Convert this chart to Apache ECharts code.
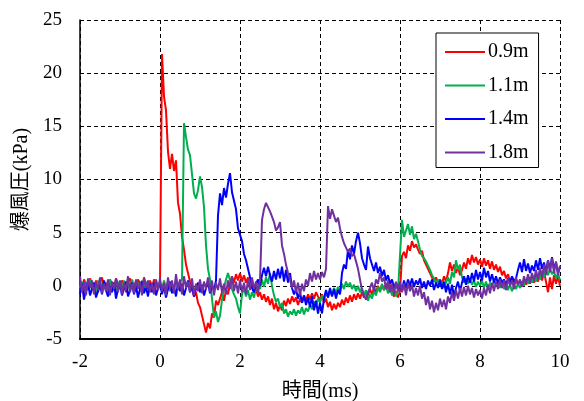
<!DOCTYPE html>
<html lang="ja">
<head>
<meta charset="UTF-8" />
<title>爆風圧</title>
<script src="https://cdn.jsdelivr.net/npm/echarts@6.0.0/dist/echarts.min.js"></script>
<style>
  html, body { margin: 0; padding: 0; background: #fff; }
  #chart { width: 584px; height: 401px; }
</style>
</head>
<body>
<div id="chart"></div>
<script>
// sampled signals, one value every 0.05 ms from -2 ms to 10 ms
var t0 = -2;
var dt = 0.05;

var names = ["0.9m", "1.1m", "1.4m", "1.8m"];
var colors = ["#ff0000", "#00b050", "#0000ff", "#7030a0"];

var red = [
  0.3,-0.5,0.6,0.1,-0.4, 0.7,0.2,-0.3,0.5,-0.6, 0.4,0.8,-0.2,0.3,-0.5, 0.6,0.1,-0.4,0.7,0.2,
  -0.3,0.5,0.2,-0.6,0.4, 0.7,-0.2,0.3,-0.5,0.6, 0.2,-0.4,0.8,0.1,-0.3, 0.5,-0.2,0.6,0.3,-0.4,
  0.3,21.8,17.8,16.5,12.6, 11.0,12.4,10.8,11.8,7.8, 6.8,4.6,3.4,2.0,1.2, 0.4,-0.3,-1.0,-0.6,-1.6,
  -2.0,-2.8,-3.6,-4.4,-3.5, -4.0,-2.6,-3.0,-1.4,-1.8, -1.2,-0.6,-1.4,-0.4,-0.8, 0.2,0.9,0.3,1.1,0.5,
  1.2,0.4,1.0,0.3,0.8, -0.2,0.2,-0.6,-0.3,-1.0, -0.6,-1.3,-0.8,-1.5,-1.0, -1.8,-1.2,-2.2,-1.6,-2.4,
  -1.8,-2.3,-1.4,-1.9,-1.2, -1.7,-1.0,-1.5,-1.1,-1.8, -1.2,-1.6,-0.9,-1.4,-0.8, -1.3,-0.7,-1.2,-0.6,-1.0,
  -1.3,-0.8,-1.6,-1.2,-2.0, -1.5,-2.3,-1.7,-2.2,-1.6, -2.0,-1.3,-1.8,-1.1,-1.6, -0.9,-1.5,-0.8,-1.3,-0.7,
  -1.2,-0.6,-1.1,-0.5,-0.9, -0.3,-0.8,-0.2,-0.6,0.0, -0.5,0.1,-0.4,0.2,-0.3, 0.1,-0.6,-1.0,-0.5,-1.1,
  -0.5,2.8,3.2,2.6,3.8, 3.3,4.2,3.6,3.9,3.4, 3.0,3.3,2.4,2.0,1.6, 1.2,0.8,0.4,0.8,0.3,
  0.6,0.2,0.9,0.4,1.2, 2.2,1.4,2.0,1.2,1.8, 1.0,1.5,2.2,1.6,2.6, 2.0,2.9,2.2,2.7,2.0,
  2.5,1.8,2.6,1.9,2.4, 1.6,2.3,1.5,2.0,1.3, 1.8,1.0,1.4,0.7,1.1, 0.4,0.8,0.2,0.6,0.1,
  0.5,0.0,0.6,0.1,0.8, 0.2,0.9,0.3,1.0,0.4, 1.2,0.5,1.3,0.4,-0.6, 0.8,-0.3,1.0,0.2,0.9, 0.0
];

var green = [
  -0.2,0.4,-0.5,0.3,-0.1, 0.6,-0.4,0.2,-0.6,0.5, 0.0,-0.3,0.4,-0.5,0.2, 0.6,-0.2,0.3,-0.6,0.1,
  0.4,-0.3,0.5,-0.1,0.2, -0.5,0.6,0.0,-0.4,0.3, -0.2,0.5,-0.6,0.2,0.4, -0.3,0.1,-0.5,0.5,-0.1,
  0.3,-0.4,0.5,-0.2,0.4, -0.5,0.2,-0.3,0.6,-0.1, 0.3,0.6,15.3,14.0,12.8, 12.3,10.5,8.7,8.2,9.0,
  10.3,9.3,7.4,3.8,1.6, 0.6,-1.2,-3.0,-2.4,-3.4, -2.8,-1.3,-0.2,0.6,1.2, 0.5,-0.3,-0.8,-1.2,-2.0,
  -2.6,-0.8,-0.2,-1.0,-0.4, -1.3,-0.6,-1.1,-0.2,0.5, -0.3,0.6,-0.1,0.8,0.2, 1.2,0.0,-0.9,-1.5,-1.2,
  -2.0,-1.6,-2.6,-2.2,-2.9, -2.4,-2.7,-2.2,-2.8,-2.3, -2.6,-2.0,-2.7,-2.1,-2.4, -1.8,-2.2,-1.5,-1.9,-1.2,
  -1.6,-0.9,-1.3,-0.6,-1.1, -0.4,-0.9,-0.2,-0.7,-0.1, -0.6,0.2,-0.3,0.4,-0.1, 0.3,-0.3,0.1,-0.5,0.0,
  -0.6,-0.2,-0.9,-0.4,-1.4, -0.8,-1.2,-0.5,-0.9,-0.1, -0.6,0.2,-0.4,0.0,-0.7, -0.2,-0.9,-0.4,-1.0,-0.5,
  -0.6,6.2,4.6,5.2,5.8, 4.8,5.6,4.4,4.9,4.2, 3.4,2.8,2.6,2.3,1.9, 1.5,1.0,0.7,0.2,0.6,
  0.0,0.4,-0.2,0.3,0.8, 0.2,1.3,0.8,2.4,1.5, 2.0,0.8,0.3,0.7,0.2, 0.6,0.1,0.5,-0.1,0.4,
  0.0,0.5,-0.2,0.4,-0.3, 0.3,-0.1,0.5,0.0,0.4, -0.2,0.3,-0.3,0.2,-0.4, 0.1,-0.5,0.0,-0.3,0.2,
  -0.2,0.4,0.0,0.6,0.2, 0.8,0.3,0.9,0.4,1.1, 0.6,1.3,0.8,1.5,1.0, 1.6,1.1,1.4,0.7,1.2, 0.5
];

var blue = [
  -0.8,0.2,-1.3,-0.2,0.4, -0.9,-0.3,0.3,-1.1,-0.5, 0.1,-0.8,0.5,-0.4,-1.0, 0.0,-0.6,0.3,-1.2,-0.3,
  0.2,-0.9,-0.2,0.4,-1.0, -0.4,0.3,-0.8,0.0,-1.1, -0.3,0.4,-0.7,-0.1,-1.0, 0.2,-0.6,0.3,-0.9,-0.2,
  0.3,-0.8,0.0,-1.1,-0.3, 0.4,-0.7,-0.1,-1.0,0.3, -0.5,0.2,-0.9,-0.2,0.5, -0.6,0.0,-1.0,-0.3,0.3,
  -0.6,0.1,-0.9,-0.2,0.4, -0.7,0.0,-0.4,0.5,6.6, 8.7,7.6,9.2,8.3,9.6, 10.6,8.8,8.0,7.2,5.4,
  4.8,4.2,3.0,2.4,1.6, 0.8,-0.2,-0.6,0.2,0.6, 0.0,1.0,1.7,0.9,1.8, 1.0,0.4,1.4,0.6,1.6,
  0.7,1.8,0.4,1.5,0.3, 1.2,-0.2,-0.8,-0.3,-1.2, -0.6,-1.6,-0.9,-1.8,-1.1, -2.0,-1.0,-2.3,-1.4,-2.6,
  -1.6,-2.6,-1.2,-0.4,-1.1, -0.2,-1.0,-0.3,-1.2,-0.4, -0.8,1.2,2.0,1.6,3.4, 2.5,3.8,3.0,4.2,5.0,
  4.0,2.6,2.0,1.5,3.7, 2.6,2.0,1.4,2.2,1.2, 1.8,0.9,1.5,0.5,1.0, 0.2,0.6,-0.2,0.3,-0.4,
  0.2,-0.5,0.5,-0.2,0.6, 0.0,0.7,-0.1,0.5,0.1, 0.7,-0.2,0.4,-0.3,0.5, 0.0,0.6,-0.4,0.3,-0.2,
  0.5,-0.3,0.4,-0.6,0.2, -0.8,0.1,-1.0,-0.2,0.4, -0.5,0.3,0.9,0.1,1.0, 0.3,1.2,0.4,1.5,0.6,
  1.3,0.5,1.7,0.8,1.4, 0.4,1.1,0.3,0.9,0.2, 0.8,0.3,0.6,0.1,0.7, 0.3,0.9,0.4,0.7,1.5,
  2.2,1.3,2.5,1.4,2.1, 1.2,1.9,1.4,2.4,1.5, 2.6,1.6,2.2,1.3,2.4, 1.5,2.7,1.6,2.2,1.2, 1.8
];

var purple = [
  0.9,-0.6,0.4,-0.9,0.7, -0.2,0.5,-0.8,0.3,-0.4, 0.8,-0.7,0.2,-0.5,0.6, -0.9,0.4,-0.3,0.7,-0.6,
  0.5,-0.8,0.3,-0.4,0.9, -0.6,0.2,-0.7,0.6,-0.3, 0.4,-0.9,0.7,-0.2,0.5, -0.6,0.3,-0.8,0.6,-0.4,
  0.7,-0.5,0.3,-0.9,0.8, -0.3,0.5,-0.7,1.1,-0.4, 0.6,-0.8,0.9,-0.2,0.4, -0.6,0.7,-0.9,0.2,-0.5,
  0.6,-0.7,0.4,-0.3,0.8, -0.6,0.5,-0.9,0.3,-0.4, 0.7,-0.6,0.2,-0.8,0.5, -0.3,0.9,-0.5,0.4,-0.7,
  0.5,-0.6,0.3,-0.8,0.6, -0.4,0.8,-0.3,0.4,-0.7, 0.5,6.2,7.2,7.8,7.4, 7.0,6.5,6.0,5.2,5.5,
  6.0,3.8,3.0,2.0,1.2, 0.6,-0.2,0.5,-0.6,0.3, -0.9,0.2,-0.5,0.6,0.0, 1.2,0.4,1.4,0.6,1.2,
  0.6,1.3,0.8,1.6,7.5, 6.3,7.2,6.6,6.0,6.4, 5.4,4.6,4.0,3.6,3.2, 3.5,2.8,3.0,2.3,1.6,
  0.6,-0.4,-0.9,-1.3,-0.6, -0.2,0.3,-0.5,0.6,0.2, 1.2,0.4,0.8,-0.3,0.5, -0.6,0.2,-0.8,0.4,-0.5,
  0.4,-0.6,0.2,-0.9,0.3, -0.5,0.1,-1.0,-0.2,-0.9, 0.0,-1.2,-0.6,-1.8,-1.0, -2.2,-1.4,-2.5,-1.6,-2.3,
  -1.2,-2.0,-1.3,-2.2,-1.0, -1.6,-0.6,-1.4,-0.4,-1.2, -0.2,-1.0,-0.1,-0.9,0.0, -0.8,-0.2,-1.1,-0.3,-0.9,
  -0.4,-1.2,-0.2,-0.9,0.1, -0.7,0.3,-0.5,0.4,-0.3, 0.6,-0.2,0.5,-0.4,0.7, 0.0,0.5,-0.3,0.8,0.1,
  0.6,-0.1,0.9,0.2,1.1, 0.3,1.2,0.5,1.5,0.6, 1.7,0.8,2.0,1.0,2.4, 1.3,2.6,1.2,2.3,1.0, 1.9
];

var serif = "'Liberation Serif', 'Noto Sans CJK JP', serif";

function toPairs(vals) {
  var out = [];
  for (var i = 0; i < vals.length; i++) {
    out.push([+(t0 + i * dt).toFixed(2), vals[i]]);
  }
  return out;
}

var chart = echarts.init(document.getElementById("chart"), null, { renderer: "canvas" });

var seriesList = [red, green, blue, purple].map(function (vals, k) {
  return {
    name: names[k],
    type: "line",
    data: toPairs(vals),
    symbol: "none",
    showSymbol: false,
    sampling: null,
    lineStyle: { color: colors[k], width: 2 },
    itemStyle: { color: colors[k] },
    emphasis: { disabled: true }
  };
});

var gridLine = { show: true, lineStyle: { color: "#000", width: 1, type: [4, 3] } };

chart.setOption({
  animation: false,
  backgroundColor: "#fff",
  grid: { left: 80, right: 24, top: 20, bottom: 62, containLabel: false, outerBoundsMode: "none" },
  legend: {
    orient: "vertical",
    left: 436,
    top: 33,
    padding: [8, 10, 4, 9],
    icon: "rect",
    itemWidth: 40,
    itemHeight: 2,
    itemGap: 11.5,
    backgroundColor: "#fff",
    borderColor: "#000",
    borderWidth: 1,
    borderRadius: 0,
    textStyle: { fontFamily: serif, fontSize: 20, color: "#000", lineHeight: 22, padding: [0, 0, 0, -2] },
    data: names
  },
  xAxis: {
    type: "value",
    min: -2,
    max: 10,
    interval: 2,
    name: "時間(ms)",
    nameLocation: "middle",
    nameGap: 43,
    nameTextStyle: { fontFamily: serif, fontSize: 20, color: "#000" },
    axisLine: { show: true, onZero: false, lineStyle: { color: "#000", width: 2 } },
    axisTick: { show: false },
    axisLabel: { fontFamily: serif, fontSize: 19, color: "#000", margin: 14 },
    splitLine: gridLine
  },
  yAxis: {
    type: "value",
    min: -5,
    max: 25,
    interval: 5,
    name: "爆風圧(kPa)",
    nameLocation: "middle",
    nameGap: 45,
    nameTextStyle: { fontFamily: serif, fontSize: 20, color: "#000" },
    axisLine: { show: true, onZero: false, lineStyle: { color: "#000", width: 1.5 } },
    axisTick: { show: false },
    axisLabel: { fontFamily: serif, fontSize: 19, color: "#000", margin: 18 },
    splitLine: gridLine
  },
  series: seriesList
});
</script>
</body>
</html>
